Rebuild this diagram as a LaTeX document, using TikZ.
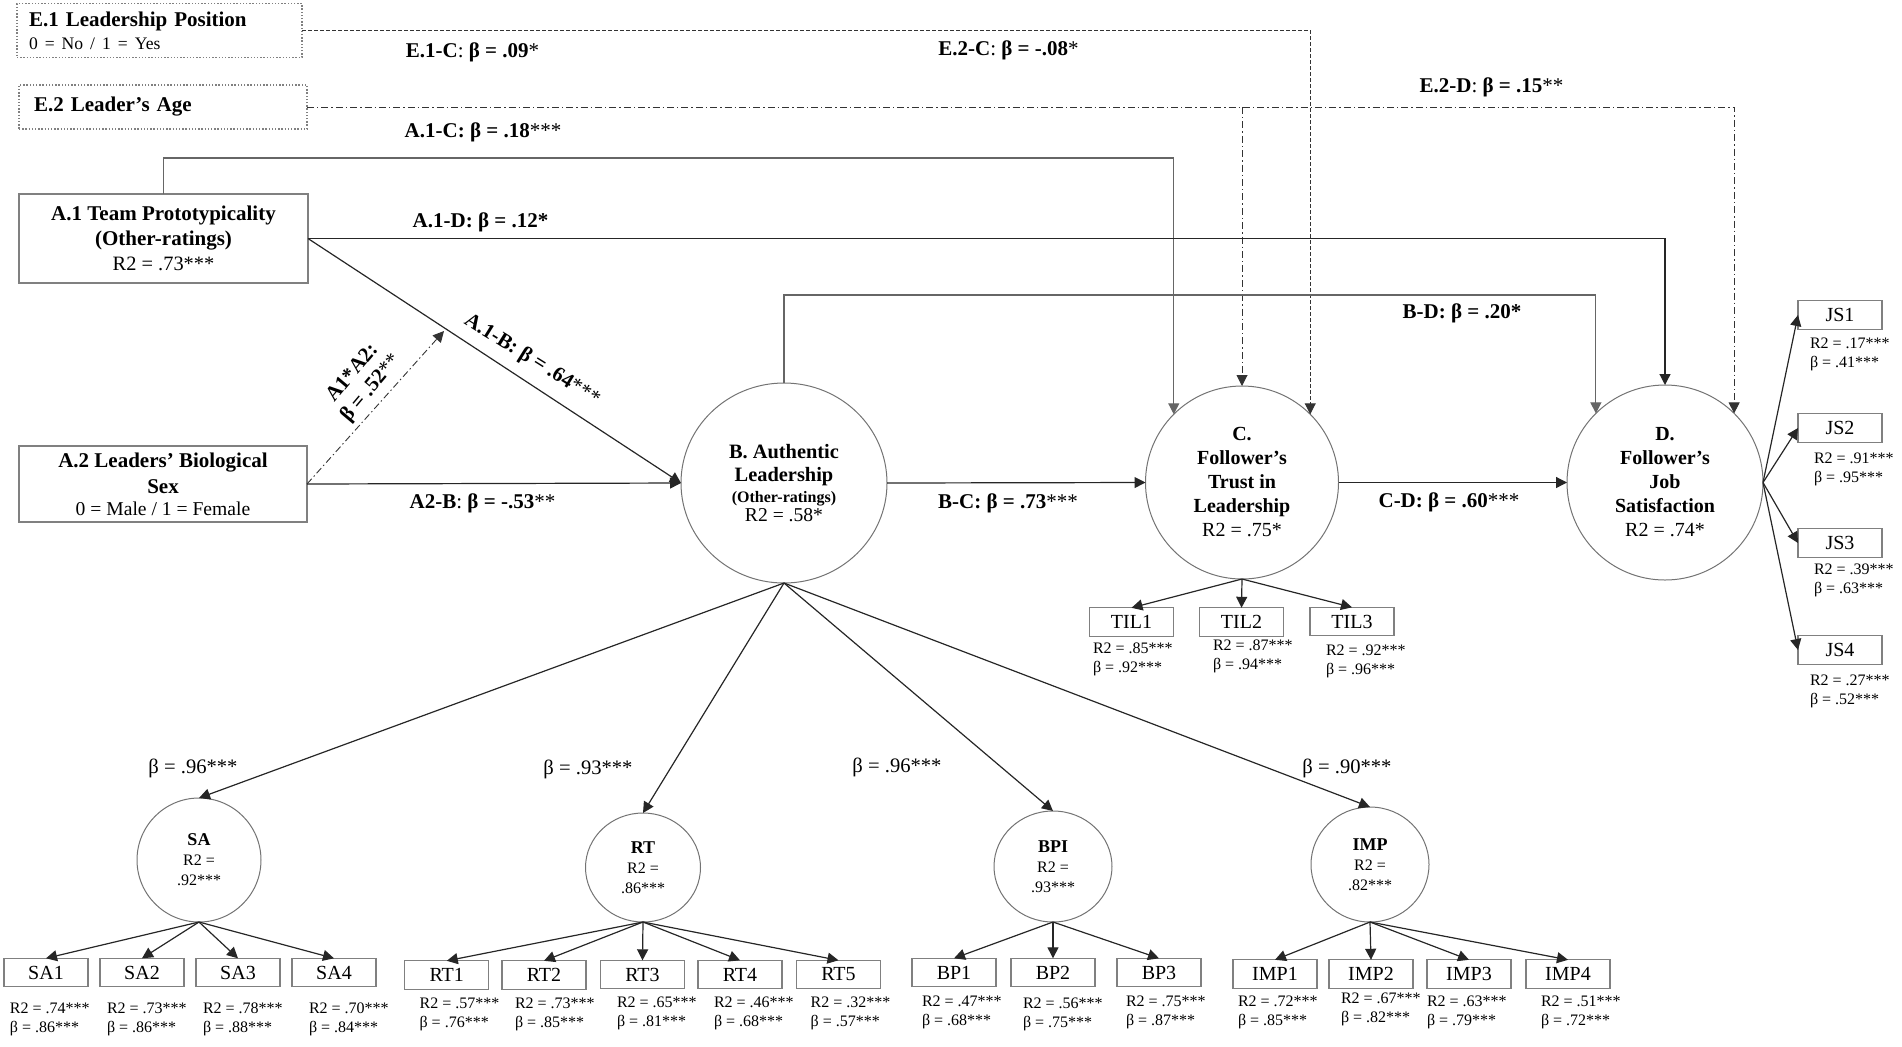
\documentclass[tikz,border=0pt]{standalone}
\usepackage{fontspec}
\setmainfont{Liberation Serif}
\usetikzlibrary{arrows.meta,shapes.geometric,calc}
\newcommand{\myfs}[2]{\fontsize{#1}{#2}\selectfont}
\begin{document}
\begin{tikzpicture}[x=0.5pt,y=-0.5pt,
  every node/.style={inner sep=0pt, outer sep=0pt},
  ln/.style={draw=black!85, line width=0.6pt},
  arr/.style={ln, -{Triangle[length=5.5pt,width=5.5pt]}},
  bx/.style={draw=black!50, line width=0.6pt, rectangle, align=center},
  ebox/.style={draw=black!50, line width=0.6pt, dash pattern=on 0.7pt off 0.9pt, rectangle},
  lat/.style={draw=black!55, line width=0.5pt, ellipse, align=center},
  ind/.style={bx, minimum width=42pt, minimum height=14.2pt, font=\myfs{10}{12}},
  stat/.style={anchor=west, align=left, font=\myfs{8}{9.5}},
  plab/.style={font=\myfs{10.5}{12}},
  flab/.style={font=\myfs{10.3}{12}},
  dsh/.style={line width=0.5pt, draw=black!80, dash pattern=on 1.8pt off 1.2pt},
  dd/.style={line width=0.45pt, draw=black!80, dash pattern=on 3.5pt off 1.5pt on 0.7pt off 1.5pt},
]
\useasboundingbox (0,0) rectangle (1902,1046);

% ---------- exogenous boxes ----------
\node[ebox, text width=130.5pt, align=left, inner xsep=6pt, minimum height=27pt, font=\myfs{10.5}{11.5}] (E1) at (159.5,30.5)
  {\textbf{E.1 Leadership Position}\\{\myfs{8.8}{11.5}0 = No / 1 = Yes}};
\node[ebox, text width=129pt, align=left, inner xsep=7.5pt, minimum height=22pt, font=\myfs{10.5}{12}] (E2) at (163,107)
  {\textbf{E.2 Leader’s Age}};
\node[bx, minimum width=144.5pt, minimum height=44.5pt, font=\myfs{10.5}{12.5}] (A1) at (163.5,238.5)
  {\textbf{A.1 Team Prototypicality}\\\textbf{(Other-ratings)}\\{\myfs{10.2}{12.5}R2 = .73***}};
\node[bx, minimum width=144pt, minimum height=38pt, font=\myfs{10.5}{12}] (A2) at (163,484)
  {\textbf{A.2 Leaders’ Biological}\\[1pt]\textbf{Sex}\\[-1pt]{\myfs{9.8}{12}0 = Male / 1 = Female}};

% ---------- latent variables ----------
\node[lat, minimum width=103pt, minimum height=100pt, font=\myfs{10.2}{11.5}] (B) at (784,483)
  {\textbf{B. Authentic}\\\textbf{Leadership}\\[-1pt]{\myfs{8}{9}\textbf{(Other-ratings)}}\\[-2pt]{\myfs{9.8}{11}R2 = .58*}};
\node[lat, minimum width=96.5pt, minimum height=96.5pt, font=\myfs{10}{12}] (C) at (1242,482.5)
  {\textbf{C.}\\\textbf{Follower’s}\\\textbf{Trust in}\\\textbf{Leadership}\\R2 = .75*};
\node[lat, minimum width=98pt, minimum height=97.5pt, font=\myfs{10}{12}] (D) at (1665,482.5)
  {\textbf{D.}\\\textbf{Follower’s}\\\textbf{Job}\\\textbf{Satisfaction}\\R2 = .74*};

\node[lat, minimum width=62pt, minimum height=62pt, font=\myfs{8}{10}] (SA) at (199,860)
  {{\myfs{9}{10}\textbf{SA}}\\R2 =\\.92***};
\node[lat, minimum width=57.5pt, minimum height=54.5pt, font=\myfs{8}{10}] (RT) at (643,867.5)
  {{\myfs{9}{10}\textbf{RT}}\\R2 =\\.86***};
\node[lat, minimum width=59pt, minimum height=55.5pt, font=\myfs{8}{10}] (BPI) at (1053,866.5)
  {{\myfs{9}{10}\textbf{BPI}}\\R2 =\\.93***};
\node[lat, minimum width=59pt, minimum height=57.5pt, font=\myfs{8}{10}] (IMP) at (1370,864.5)
  {{\myfs{9}{10}\textbf{IMP}}\\R2 =\\.82***};

% ---------- indicators ----------
\node[ind] (TIL1) at (1131.5,622) {TIL1};
\node[ind] (TIL2) at (1241.5,622) {TIL2};
\node[ind] (TIL3) at (1352,621.5) {TIL3};
\node[ind] (JS1) at (1840,315) {JS1};
\node[ind] (JS2) at (1840,428) {JS2};
\node[ind] (JS3) at (1840,543) {JS3};
\node[ind] (JS4) at (1840,650) {JS4};
\node[ind] (SA1) at (46,972.5) {SA1};
\node[ind] (SA2) at (142,972.5) {SA2};
\node[ind] (SA3) at (238,972.5) {SA3};
\node[ind] (SA4) at (334,972.5) {SA4};
\node[ind] (RT1) at (446.75,975) {RT1};
\node[ind] (RT2) at (544,975) {RT2};
\node[ind] (RT3) at (642.5,974.5) {RT3};
\node[ind] (RT4) at (740,974.5) {RT4};
\node[ind] (RT5) at (838.5,974.5) {RT5};
\node[ind] (BP1) at (954,972.5) {BP1};
\node[ind] (BP2) at (1053,972.5) {BP2};
\node[ind] (BP3) at (1159,972.5) {BP3};
\node[ind] (IMP1) at (1275,974) {IMP1};
\node[ind] (IMP2) at (1371,974) {IMP2};
\node[ind] (IMP3) at (1469,974) {IMP3};
\node[ind] (IMP4) at (1568,974) {IMP4};

% ---------- indicator statistics ----------
\node[stat] (sTIL1) at (1093,659) {R2 = .85***\\β = .92***};
\node[stat] (sTIL2) at (1213,656) {R2 = .87***\\β = .94***};
\node[stat] (sTIL3) at (1326,661.5) {R2 = .92***\\β = .96***};
\node[stat] (sJS1) at (1810,354) {R2 = .17***\\β = .41***};
\node[stat] (sJS2) at (1814,469) {R2 = .91***\\β = .95***};
\node[stat] (sJS3) at (1814,580) {R2 = .39***\\β = .63***};
\node[stat] (sJS4) at (1810,691.5) {R2 = .27***\\β = .52***};
\node[stat] (sSA1) at (10,1019.5) {R2 = .74***\\β = .86***};
\node[stat] (sSA2) at (107,1019.5) {R2 = .73***\\β = .86***};
\node[stat] (sSA3) at (203,1019.5) {R2 = .78***\\β = .88***};
\node[stat] (sSA4) at (309,1019.5) {R2 = .70***\\β = .84***};
\node[stat] (sRT1) at (419.6,1014) {R2 = .57***\\β = .76***};
\node[stat] (sRT2) at (515,1014) {R2 = .73***\\β = .85***};
\node[stat] (sRT3) at (617,1013) {R2 = .65***\\β = .81***};
\node[stat] (sRT4) at (714,1013) {R2 = .46***\\β = .68***};
\node[stat] (sRT5) at (810.6,1013) {R2 = .32***\\β = .57***};
\node[stat] (sBP1) at (922,1012.5) {R2 = .47***\\β = .68***};
\node[stat] (sBP2) at (1023,1014.5) {R2 = .56***\\β = .75***};
\node[stat] (sBP3) at (1126,1012.5) {R2 = .75***\\β = .87***};
\node[stat] (sIMP1) at (1238,1012.5) {R2 = .72***\\β = .85***};
\node[stat] (sIMP2) at (1341,1009) {R2 = .67***\\β = .82***};
\node[stat] (sIMP3) at (1427,1012.5) {R2 = .63***\\β = .79***};
\node[stat] (sIMP4) at (1541,1012.5) {R2 = .51***\\β = .72***};

% ---------- path labels ----------
\node[plab] (lE1C) at (472.5,52) {\textbf{E.1-C}: \textbf{β = .09}*};
\node[plab] (lE2C) at (1008.5,50) {\textbf{E.2-C}: \textbf{β = -.08}*};
\node[plab] (lE2D) at (1491.5,87) {\textbf{E.2-D}: \textbf{β = .15}**};
\node[plab] (lA1C) at (483,132) {\textbf{A.1-C: β = .18}***};
\node[plab] (lA1D) at (480.5,222) {\textbf{A.1-D: β = .12*}};
\node[plab] (lA2B) at (482.5,503) {\textbf{A2-B}: \textbf{β = -.53}**};
\node[plab] (lBC) at (1008,503) {\textbf{B-C: β = .73}***};
\node[plab] (lCD) at (1449,502) {\textbf{C-D: β = .60}***};
\node[plab] (lBD) at (1462,313) {\textbf{B-D: β = .20*}};
\node[plab, rotate=-32] (lA1B) at (532,360) {\textbf{A.1-B: β = .64}***};
\node[plab, rotate=50, align=center] (lmod) at (362,381) {\textbf{A1*A2:}\\\textbf{β = .52}**};

\node[flab] (lSA) at (193,768) {β = .96***};
\node[flab] (lRT) at (588,769) {β = .93***};
\node[flab] (lBPI) at (897,767) {β = .96***};
\node[flab] (lIMP) at (1347,768) {β = .90***};

% ---------- connectors ----------
\coordinate (a1c) at (164,158);
\coordinate (bdy) at (784,295);
\coordinate (mod) at (444,331);

\draw[arr, dsh] (E1.east) -| (C.45);
\draw[arr, dd] (E2.east) -| (D.45);
\draw[arr, dd] (E2.east -| C.north) -- (C.north);
\draw[arr, draw=black!60] (A1.north) -- (A1.north |- a1c) -| (C.135);
\draw[arr] (A1.east) -| (D.north);
\draw[arr] (A1.east) -- (B.west);
\draw[arr] (A2.east) -- (B.west);
\draw[arr, dd] (A2.east) -- (mod);
\draw[arr] (B.east) -- (C.west);
\draw[arr] (C.east) -- (D.west);
\draw[arr, draw=black!60] (B.north) -- (B.north |- bdy) -| (D.135);

\foreach \t in {TIL1,TIL2,TIL3} \draw[arr] (C.south) -- (\t.north);
\foreach \t in {JS1,JS2,JS3,JS4} \draw[arr] (D.east) -- (\t.west);
\foreach \t in {SA,RT,BPI,IMP} \draw[arr] (B.south) -- (\t.north);
\foreach \t in {SA1,SA2,SA3,SA4} \draw[arr] (SA.south) -- (\t.north);
\foreach \t in {RT1,RT2,RT3,RT4,RT5} \draw[arr] (RT.south) -- (\t.north);
\foreach \t in {BP1,BP2,BP3} \draw[arr] (BPI.south) -- (\t.north);
\foreach \t in {IMP1,IMP2,IMP3,IMP4} \draw[arr] (IMP.south) -- (\t.north);
\end{tikzpicture}
\end{document}
